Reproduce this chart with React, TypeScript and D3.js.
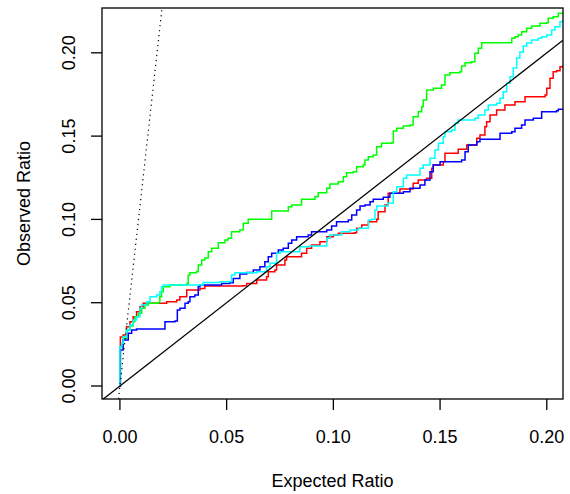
import React, { useEffect, useRef } from 'react'
import * as d3 from 'd3'

// expected vs observed ratio as [expected, observed]
const redPts: [number, number][] = [
  [0, 0], [0.0002, 0.0294], [0.0015, 0.0306], [0.0031, 0.0356], [0.0047, 0.0386], [0.0062, 0.0416],
  [0.0078, 0.0446], [0.0094, 0.0476], [0.0109, 0.0496], [0.0219, 0.0506], [0.0266, 0.0516], [0.0281, 0.0536],
  [0.0313, 0.0576], [0.0375, 0.0586], [0.0398, 0.06], [0.0576, 0.0602], [0.0594, 0.0616], [0.0641, 0.0636],
  [0.0687, 0.0656], [0.0695, 0.0686], [0.0726, 0.0696], [0.0734, 0.0726], [0.0773, 0.0756], [0.0781, 0.0776],
  [0.0828, 0.0776], [0.0851, 0.0797], [0.0875, 0.0827], [0.0898, 0.0846], [0.0937, 0.0866], [0.0969, 0.0896],
  [0.1, 0.0906], [0.1023, 0.0917], [0.1101, 0.092], [0.1109, 0.0947], [0.1133, 0.0966], [0.1164, 0.0986],
  [0.1203, 0.1001], [0.121, 0.1046], [0.1242, 0.1086], [0.1257, 0.1157], [0.1312, 0.1182], [0.1374, 0.1217],
  [0.1398, 0.1236], [0.1437, 0.1247], [0.1461, 0.1307], [0.1468, 0.1327], [0.1515, 0.1346], [0.1523, 0.1397],
  [0.1585, 0.1421], [0.1625, 0.1447], [0.1648, 0.1447], [0.1672, 0.1487], [0.1687, 0.1507], [0.171, 0.1556],
  [0.1718, 0.1586], [0.1734, 0.1627], [0.1765, 0.1657], [0.1804, 0.1687], [0.1851, 0.1707], [0.1898, 0.1737],
  [0.1992, 0.1747], [0.2, 0.1787], [0.2015, 0.1847], [0.203, 0.1887], [0.2046, 0.1893], [0.2062, 0.1917],
  [0.2077, 0.1927]
]

const greenPts: [number, number][] = [
  [0, 0], [0, 0.0236], [0.0015, 0.0286], [0.0031, 0.0336], [0.0047, 0.036], [0.0062, 0.0386],
  [0.007, 0.0416], [0.0086, 0.0436], [0.0102, 0.0466], [0.0117, 0.0486], [0.0133, 0.0496], [0.0179, 0.0502],
  [0.0187, 0.0536], [0.0195, 0.0566], [0.0203, 0.0596], [0.0234, 0.0606], [0.0313, 0.0616], [0.032, 0.0666],
  [0.0328, 0.068], [0.0359, 0.0687], [0.0367, 0.0726], [0.0383, 0.0756], [0.0398, 0.0768], [0.0414, 0.0806],
  [0.043, 0.0827], [0.0461, 0.086], [0.0492, 0.0876], [0.0507, 0.0887], [0.0523, 0.0926], [0.0562, 0.0936],
  [0.0578, 0.0977], [0.0601, 0.1001], [0.0695, 0.1001], [0.0711, 0.105], [0.0789, 0.1076], [0.0805, 0.1086],
  [0.0828, 0.1086], [0.0851, 0.1121], [0.0914, 0.1136], [0.0929, 0.116], [0.0969, 0.1187], [0.0984, 0.1212],
  [0.1023, 0.1226], [0.1047, 0.1256], [0.1062, 0.128], [0.1093, 0.1286], [0.1109, 0.1316], [0.114, 0.1327],
  [0.1148, 0.1357], [0.1164, 0.1376], [0.1187, 0.1387], [0.1203, 0.1436], [0.1226, 0.1457], [0.1273, 0.146],
  [0.1281, 0.1531], [0.1297, 0.1547], [0.1328, 0.1561], [0.1359, 0.1567], [0.1374, 0.1616], [0.1398, 0.1646],
  [0.1414, 0.1676], [0.1421, 0.1717], [0.1437, 0.1777], [0.1468, 0.1787], [0.1507, 0.1807], [0.1523, 0.1867],
  [0.1546, 0.1881], [0.1593, 0.1887], [0.1601, 0.1921], [0.1617, 0.1941], [0.1648, 0.1947], [0.1663, 0.1997],
  [0.1679, 0.2027], [0.1695, 0.2061], [0.1828, 0.2061], [0.1836, 0.2087], [0.1851, 0.2097], [0.1866, 0.2107],
  [0.1882, 0.2127], [0.1906, 0.2147], [0.1929, 0.2161], [0.196, 0.2161], [0.1968, 0.2177], [0.2, 0.2181],
  [0.2007, 0.2207], [0.203, 0.2217], [0.2054, 0.2237], [0.2077, 0.2241]
]

const bluePts: [number, number][] = [
  [0, 0], [0.0002, 0.0216], [0.0015, 0.0276], [0.0039, 0.0316], [0.0055, 0.0336], [0.0078, 0.0342],
  [0.0195, 0.0342], [0.0211, 0.0386], [0.0258, 0.039], [0.0269, 0.0456], [0.0281, 0.0466], [0.0305, 0.0496],
  [0.032, 0.0506], [0.0328, 0.0536], [0.0351, 0.0546], [0.0367, 0.0596], [0.0375, 0.0606], [0.0461, 0.0606],
  [0.0477, 0.0616], [0.0515, 0.062], [0.0531, 0.0646], [0.0562, 0.0672], [0.0594, 0.0681], [0.0625, 0.0696],
  [0.0656, 0.0716], [0.0679, 0.0746], [0.0695, 0.0776], [0.0711, 0.0797], [0.0742, 0.0816], [0.0765, 0.0827],
  [0.0789, 0.0857], [0.0805, 0.0876], [0.0828, 0.0896], [0.0882, 0.0906], [0.0898, 0.0926], [0.0969, 0.0936],
  [0.0992, 0.096], [0.1015, 0.0986], [0.107, 0.0996], [0.1086, 0.1026], [0.1109, 0.1056], [0.1125, 0.108],
  [0.1148, 0.1086], [0.1172, 0.1106], [0.1187, 0.1121], [0.1234, 0.1133], [0.1265, 0.1157], [0.1328, 0.1166],
  [0.1359, 0.1187], [0.1406, 0.1206], [0.1429, 0.1236], [0.1453, 0.1286], [0.1468, 0.1327], [0.15, 0.1346],
  [0.1601, 0.1357], [0.1617, 0.1406], [0.1632, 0.1447], [0.1672, 0.1466], [0.1687, 0.1481], [0.1773, 0.1481],
  [0.1781, 0.1517], [0.1836, 0.1526], [0.1851, 0.1547], [0.1882, 0.1567], [0.1898, 0.1597], [0.1937, 0.1607],
  [0.1976, 0.1646], [0.2046, 0.1652], [0.2054, 0.1661], [0.2077, 0.1661]
]

const cyanPts: [number, number][] = [
  [0, 0], [0, 0.0236], [0.0008, 0.0256], [0.0015, 0.0296], [0.0031, 0.0336], [0.0047, 0.0366],
  [0.0062, 0.0396], [0.0078, 0.0416], [0.0094, 0.0466], [0.0102, 0.0486], [0.0125, 0.0506], [0.0141, 0.0536],
  [0.0172, 0.0546], [0.0187, 0.0566], [0.0195, 0.0596], [0.0203, 0.0606], [0.0375, 0.0606], [0.039, 0.0622],
  [0.0469, 0.0626], [0.0523, 0.0666], [0.0539, 0.068], [0.0594, 0.068], [0.0641, 0.0686], [0.0687, 0.0716],
  [0.0703, 0.0737], [0.0734, 0.0797], [0.075, 0.0806], [0.082, 0.0806], [0.0843, 0.0836], [0.089, 0.084],
  [0.0953, 0.084], [0.0969, 0.0887], [0.0984, 0.0906], [0.1023, 0.0906], [0.1039, 0.0926], [0.1078, 0.0936],
  [0.1117, 0.0947], [0.1148, 0.0947], [0.1164, 0.0996], [0.1179, 0.1001], [0.1195, 0.1056], [0.1203, 0.108],
  [0.1234, 0.108], [0.1256, 0.1098], [0.1281, 0.1166], [0.1297, 0.1196], [0.1328, 0.1247], [0.1343, 0.1267],
  [0.1374, 0.1267], [0.1406, 0.1307], [0.1421, 0.1327], [0.1453, 0.1367], [0.1476, 0.1417], [0.1492, 0.1457],
  [0.1515, 0.1496], [0.1523, 0.1526], [0.1554, 0.1537], [0.157, 0.1577], [0.1585, 0.1597], [0.1664, 0.1607],
  [0.1679, 0.1627], [0.171, 0.1657], [0.1726, 0.1687], [0.1765, 0.1697], [0.1781, 0.1727], [0.1796, 0.1767],
  [0.1812, 0.1817], [0.1828, 0.1857], [0.1843, 0.1909], [0.1859, 0.1969], [0.1874, 0.2005], [0.189, 0.2041],
  [0.1906, 0.2059], [0.1929, 0.2077], [0.196, 0.2087], [0.1976, 0.2097], [0.2, 0.2107], [0.2023, 0.2137],
  [0.2038, 0.2157], [0.2062, 0.2187], [0.2077, 0.2197]
]

const seriesColors = ['red', '#00ff00', 'blue', 'cyan']
const xTicks = [0, 0.05, 0.1, 0.15, 0.2]
const yTicks = [0, 0.05, 0.1, 0.15, 0.2]
const dottedSlope = 11.5

const W = 570, H = 494
const plot = { left: 102, right: 563, top: 8, bottom: 399 }
const font = 'Liberation Sans, Arial, Helvetica, sans-serif'

export default function App() {
  const ref = useRef<SVGSVGElement>(null)

  useEffect(() => {
    const svg = d3.select(ref.current)
    svg.selectAll('*').remove()

    const x = d3.scaleLinear().domain([-0.0084, 0.2076]).range([plot.left, plot.right])
    const y = d3.scaleLinear().domain([-0.0078, 0.2269]).range([plot.bottom, plot.top])

    svg.append('defs').append('clipPath').attr('id', 'plotclip')
      .append('rect')
      .attr('x', plot.left).attr('y', plot.top)
      .attr('width', plot.right - plot.left).attr('height', plot.bottom - plot.top)

    const g = svg.append('g').attr('clip-path', 'url(#plotclip)')

    // step lines, like R's type = "s"
    const line = d3.line<[number, number]>()
      .x(d => x(d[0])).y(d => y(d[1]))
      .curve(d3.curveStepAfter)
    const allSeries = [redPts, greenPts, bluePts, cyanPts]
    allSeries.forEach((pts, i) => {
      g.append('path')
        .attr('d', line(pts))
        .attr('fill', 'none')
        .attr('stroke', seriesColors[i])
        .attr('stroke-width', 1.5)
    })

    // y = x reference
    const [x0, x1] = x.domain()
    g.append('line')
      .attr('x1', x(x0)).attr('y1', y(x0))
      .attr('x2', x(x1)).attr('y2', y(x1))
      .attr('stroke', 'black').attr('stroke-width', 1.3)

    // steep dotted line through origin
    const [y0, y1] = y.domain()
    g.append('line')
      .attr('x1', x(y0 / dottedSlope)).attr('y1', y(y0))
      .attr('x2', x(y1 / dottedSlope)).attr('y2', y(y1))
      .attr('stroke', 'black').attr('stroke-width', 1.2)
      .attr('stroke-dasharray', '1.2,3.8')

    // box
    svg.append('rect')
      .attr('x', plot.left).attr('y', plot.top)
      .attr('width', plot.right - plot.left).attr('height', plot.bottom - plot.top)
      .attr('fill', 'none').attr('stroke', 'black').attr('stroke-width', 1.3)

    // x axis
    xTicks.forEach(t => {
      svg.append('line')
        .attr('x1', x(t)).attr('x2', x(t))
        .attr('y1', plot.bottom).attr('y2', plot.bottom + 11)
        .attr('stroke', 'black').attr('stroke-width', 1.3)
      svg.append('text')
        .attr('x', x(t)).attr('y', 443)
        .attr('text-anchor', 'middle')
        .attr('font-family', font).attr('font-size', 18)
        .text(t.toFixed(2))
    })

    // y axis
    yTicks.forEach(t => {
      svg.append('line')
        .attr('x1', plot.left).attr('x2', plot.left - 11)
        .attr('y1', y(t)).attr('y2', y(t))
        .attr('stroke', 'black').attr('stroke-width', 1.3)
      svg.append('text')
        .attr('transform', `translate(75,${y(t)}) rotate(-90)`)
        .attr('text-anchor', 'middle')
        .attr('font-family', font).attr('font-size', 18)
        .text(t.toFixed(2))
    })

    svg.append('text')
      .attr('x', (plot.left + plot.right) / 2).attr('y', 487)
      .attr('text-anchor', 'middle')
      .attr('font-family', font).attr('font-size', 18)
      .text('Expected Ratio')

    svg.append('text')
      .attr('transform', `translate(30,${(plot.top + plot.bottom) / 2}) rotate(-90)`)
      .attr('text-anchor', 'middle')
      .attr('font-family', font).attr('font-size', 18)
      .text('Observed Ratio')
  }, [])

  return (
    <svg ref={ref} width={W} height={H}
      style={{ position: 'absolute', left: 0, top: 0, background: 'white' }} />
  )
}
